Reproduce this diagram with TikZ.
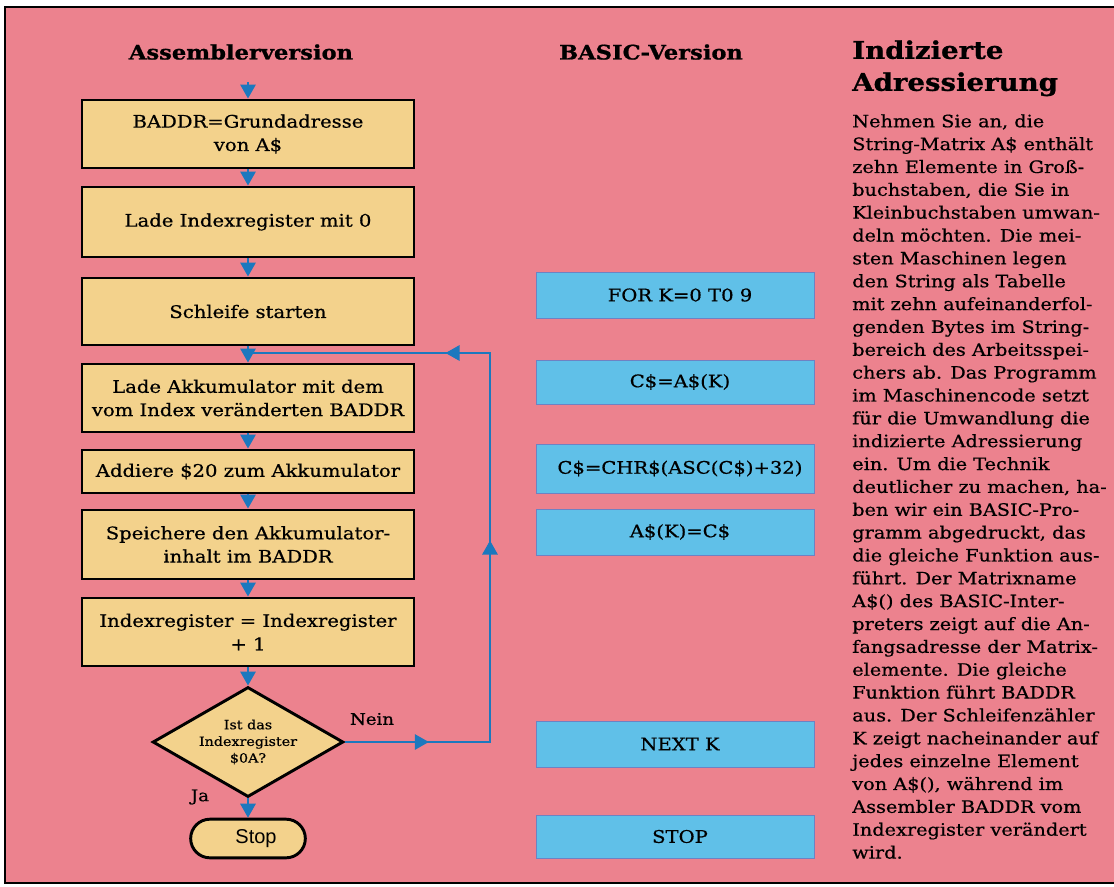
\documentclass[tikz,border=0pt]{standalone}
\usepackage{fontspec}
\setmainfont[FakeStretch=1.13, UprightFeatures={FakeBold=0.6}, BoldFeatures={FakeBold=0.9}]{DejaVu Serif}
\newfontfamily\sansf{Liberation Sans}
\usetikzlibrary{arrows.meta,shapes.geometric,decorations.markings}
\definecolor{bgpink}{RGB}{236,130,142}
\definecolor{boxtan}{RGB}{243,210,140}
\definecolor{basicblue}{RGB}{96,192,232}
\definecolor{basicedge}{RGB}{110,130,195}
\definecolor{arrowblue}{RGB}{28,120,190}
\newcommand{\bxshiftr}{\hspace*{7.5pt}}
\tikzset{
  asmbox/.style={draw=black, line width=2.2pt, fill=boxtan, minimum width=249pt, align=center, inner sep=2pt, font=\fontsize{13}{17.5}\selectfont},
  basicbox/.style={draw=basicedge, line width=0.6pt, fill=basicblue, minimum width=208.5pt, align=center, font=\fontsize{13}{17}\selectfont},
  tip/.style={-{Triangle[width=11.5pt,length=10.5pt]}},
  flowarr/.style={draw=arrowblue, line width=1.5pt, tip},
  loopline/.style={draw=arrowblue, line width=1.5pt, postaction={decorate},
    decoration={markings,
      mark=at position 63pt with {\arrow{Triangle[width=11.5pt,length=10.5pt]}},
      mark=at position 260pt with {\arrow{Triangle[width=11.5pt,length=10.5pt]}},
      mark=at position 434pt with {\arrow{Triangle[width=11.5pt,length=10.5pt]}}}},
  heading/.style={font=\fontsize{15}{18}\selectfont\bfseries},
  lbl/.style={font=\fontsize{12}{15}\selectfont}
}
\begin{document}
\begin{tikzpicture}[x=0.75pt,y=-0.75pt]
\useasboundingbox (0,0) rectangle (1114,886);
\fill[white] (0,0) rectangle (1114,886);
\fill[bgpink] (5,7) rectangle (1114,883);
\draw[line width=1.5pt] (1114,7) -- (5,7) -- (5,883) -- (1114,883);

% headings
\node[heading] (hasm) at (241,52) {Assemblerversion};
\node[heading] (hbas) at (651,52) {BASIC-Version};
\node[anchor=north west, inner sep=0pt, align=left, font=\fontsize{18.3}{24}\selectfont\bfseries] (htitle) at (852,40) {Indizierte\\Adressierung};

% body text
\node[anchor=north west, inner sep=0pt, align=left, font=\fontsize{12.8}{17.14}\selectfont] (body) at (852,114) {%
Nehmen Sie an, die\\
String-Matrix A\$ enthält\\
zehn Elemente in Groß-\\
buchstaben, die Sie in\\
Kleinbuchstaben umwan-\\
deln möchten. Die mei-\\
sten Maschinen legen\\
den String als Tabelle\\
mit zehn aufeinanderfol-\\
genden Bytes im String-\\
bereich des Arbeitsspei-\\
chers ab. Das Programm\\
im Maschinencode setzt\\
für die Umwandlung die\\
indizierte Adressierung\\
ein. Um die Technik\\
deutlicher zu machen, ha-\\
ben wir ein BASIC-Pro-\\
gramm abgedruckt, das\\
die gleiche Funktion aus-\\
führt. Der Matrixname\\
A\$() des BASIC-Inter-\\
preters zeigt auf die An-\\
fangsadresse der Matrix-\\
elemente. Die gleiche\\
Funktion führt BADDR\\
aus. Der Schleifenzähler\\
K zeigt nacheinander auf\\
jedes einzelne Element\\
von A\$(), während im\\
Assembler BADDR vom\\
Indexregister verändert\\
wird.};

% assembler flowchart
\node[asmbox, minimum height=51pt] (b1) at (248,134) {BADDR=Grundadresse\\von A\$};
\node[asmbox, minimum height=52.5pt] (b2) at (248,222) {Lade Indexregister mit 0};
\node[asmbox, minimum height=50.25pt] (b3) at (248,311.5) {Schleife starten};
\node[asmbox, minimum height=51pt] (b4) at (248,398) {Lade Akkumulator mit dem\\vom Index veränderten BADDR};
\node[asmbox, minimum height=32.25pt] (b5) at (248,471.5) {Addiere \$20 zum Akkumulator};
\node[asmbox, minimum height=51.75pt] (b6) at (248,544.5) {Speichere den Akkumulator-\\inhalt im BADDR};
\node[asmbox, minimum height=51pt] (b7) at (248,632) {Indexregister = Indexregister\\+ 1};
\node[diamond, aspect=1.74, draw=black, line width=2.2pt, fill=boxtan, minimum width=143pt, minimum height=82.5pt, inner sep=0pt, align=center, font=\fontsize{9.5}{12.5}\selectfont] (dia) at (248,742) {Ist das\\Indexregister\\\$0A?};
\node[draw=black, line width=2.2pt, fill=boxtan, minimum width=86pt, minimum height=29pt, rounded corners=14.5pt, font=\sansf\fontsize{15}{18}\selectfont] (stop) at (248,838.5) {\hspace*{12pt}Stop};

\coordinate (entry) at (248,82);
\draw[flowarr] (entry) -- (b1.north);
\draw[flowarr] (b1) -- (b2);
\draw[flowarr] (b2) -- (b3);
\draw[flowarr] (b3) -- (b4);
\draw[flowarr] (b4) -- (b5);
\draw[flowarr] (b5) -- (b6);
\draw[flowarr] (b6) -- (b7);
\draw[flowarr] (b7) -- (dia);
\draw[flowarr] (dia) -- (stop);

\coordinate (lr) at (490,742);
\coordinate (ur) at (490,353);
\coordinate (ul) at (248,353);
\draw[loopline] (dia.east) -- (lr) -- (ur) -- (ul);

\node[lbl] (nein) at (372,719) {Nein};
\node[lbl] (ja) at (200,797) {Ja};

% BASIC boxes
\node[basicbox, minimum height=34.5pt] (f1) at (675,295) {\bxshiftr FOR K=0 T0 9};
\node[basicbox, minimum height=33pt] (f2) at (675,382) {\bxshiftr C\$=A\$(K)};
\node[basicbox, minimum height=36.75pt] (f3) at (675,468.5) {\bxshiftr C\$=CHR\$(ASC(C\$)+32)};
\node[basicbox, minimum height=34.5pt] (f4) at (675,532) {\bxshiftr A\$(K)=C\$};
\node[basicbox, minimum height=34.5pt] (f5) at (675,744) {\bxshiftr NEXT K};
\node[basicbox, minimum height=32.25pt] (f6) at (675,836.5) {\bxshiftr STOP};
\end{tikzpicture}
\end{document}
